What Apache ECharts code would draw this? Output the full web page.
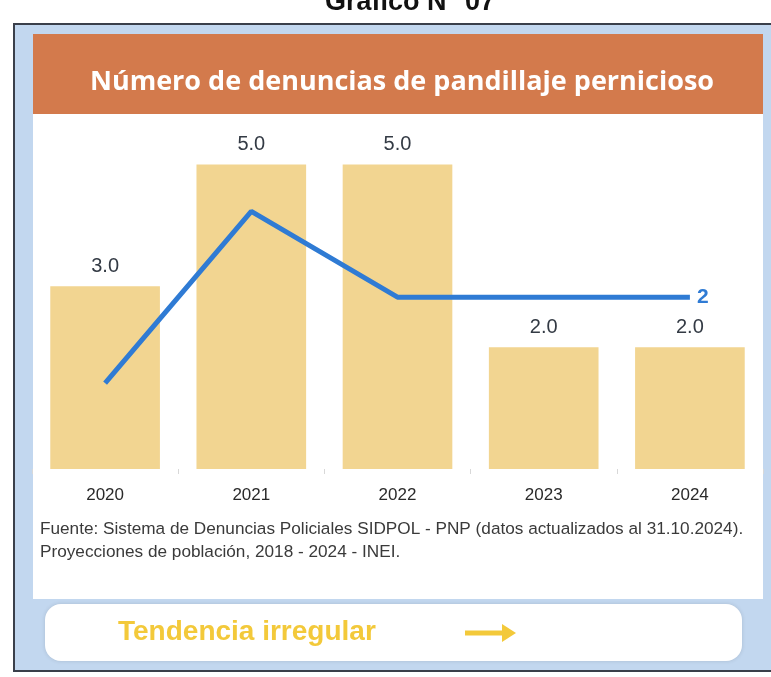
<!DOCTYPE html>
<html>
<head>
<meta charset="utf-8">
<title>Número de denuncias de pandillaje pernicioso</title>
<script src="https://cdn.jsdelivr.net/npm/echarts@6/dist/echarts.min.js"></script>
<style>
  html, body { margin: 0; padding: 0; background: #ffffff; }
  #chart { width: 771px; height: 677px; }
</style>
</head>
<body>
<div id="chart"></div>
<script>
// Data
const years = ['2020', '2021', '2022', '2023', '2024']
const denuncias = [3.0, 5.0, 5.0, 2.0, 2.0]
const tasa = [1, 3, 2, 2, 2]

const chart = echarts.init(document.getElementById('chart'))

const option = {
  animation: false,
  textStyle: {
    fontFamily: 'Arial, "Liberation Sans", sans-serif'
  },
  graphic: [
    // page heading (cut off at the top of the scan)
    {
      type: 'text',
      x: 410,
      y: -11,
      style: {
        text: 'Gráfico N° 07',
        fill: '#111',
        font: 'bold 27px Arial, "Liberation Sans", sans-serif',
        textAlign: 'center'
      }
    },
    // outer frame with light blue fill
    {
      type: 'rect',
      z: -10,
      shape: { x: 14, y: 24, width: 770, height: 647 },
      style: { fill: '#c2d7ef', stroke: '#3a3f4a', lineWidth: 2 }
    },
    // white card
    {
      type: 'rect',
      z: -9,
      shape: { x: 33, y: 34, width: 730, height: 565 },
      style: { fill: '#ffffff' }
    },
    // orange header
    {
      type: 'rect',
      z: -8,
      shape: { x: 33, y: 34, width: 730, height: 80 },
      style: { fill: '#d37a4c' }
    },
    {
      type: 'text',
      z: -7,
      x: 402,
      y: 82,
      style: {
        text: 'Número de denuncias de pandillaje pernicioso',
        fill: '#ffffff',
        font: 'bold 27px "Open Sans", sans-serif',
        textAlign: 'center',
        textVerticalAlign: 'middle'
      }
    },
    // footnote
    {
      type: 'text',
      x: 40,
      y: 541,
      style: {
        text: 'Fuente: Sistema de Denuncias Policiales SIDPOL - PNP (datos actualizados al 31.10.2024).\nProyecciones de población, 2018 - 2024 - INEI.',
        fill: '#3a3a3a',
        font: '17.2px Arial, "Liberation Sans", sans-serif',
        lineHeight: 23,
        textVerticalAlign: 'middle'
      }
    },
    // bottom note box
    {
      type: 'rect',
      z: -8,
      shape: { x: 45, y: 604, width: 697, height: 57, r: 16 },
      style: { fill: '#ffffff', shadowBlur: 4, shadowColor: 'rgba(0,0,0,0.12)' }
    },
    {
      type: 'text',
      x: 118,
      y: 632,
      style: {
        text: 'Tendencia irregular',
        fill: '#f3c93a',
        font: 'bold 28px Arial, "Liberation Sans", sans-serif',
        textVerticalAlign: 'middle'
      }
    },
    {
      type: 'line',
      shape: { x1: 465, y1: 633, x2: 504, y2: 633 },
      style: { stroke: '#f3c93a', lineWidth: 5 }
    },
    {
      type: 'polygon',
      shape: { points: [[502, 624], [516, 633], [502, 642]] },
      style: { fill: '#f3c93a' }
    }
  ],
  grid: {
    left: 32,
    right: 8,
    top: 134,
    bottom: 208
  },
  xAxis: {
    type: 'category',
    data: years,
    axisLine: { show: false },
    axisTick: {
      show: true,
      length: 5,
      lineStyle: { color: '#d8d8d8' }
    },
    axisLabel: {
      color: '#2a2a2a',
      fontSize: 17,
      margin: 18
    }
  },
  yAxis: [
    {
      type: 'value',
      min: 0,
      max: 5.5,
      show: false,
      splitLine: { show: false }
    },
    {
      type: 'value',
      min: 0,
      max: 3.9,
      show: false,
      splitLine: { show: false }
    }
  ],
  series: [
    {
      name: 'Denuncias',
      type: 'bar',
      data: denuncias,
      barWidth: '75%',
      itemStyle: { color: '#f2d591' },
      label: {
        show: true,
        position: 'top',
        distance: 10,
        color: '#333a44',
        fontSize: 20,
        formatter: p => p.value.toFixed(1)
      }
    },
    {
      name: 'Tasa',
      type: 'line',
      yAxisIndex: 1,
      data: tasa,
      symbol: 'none',
      lineStyle: { color: '#2f7bd4', width: 5 },
      itemStyle: { color: '#2f7bd4' },
      endLabel: {
        show: true,
        distance: 7,
        color: '#2f7bd4',
        fontSize: 21,
        fontWeight: 'bold',
        formatter: '{c}'
      }
    }
  ]
}

chart.setOption(option)
window.addEventListener('resize', () => chart.resize())
</script>
</body>
</html>
